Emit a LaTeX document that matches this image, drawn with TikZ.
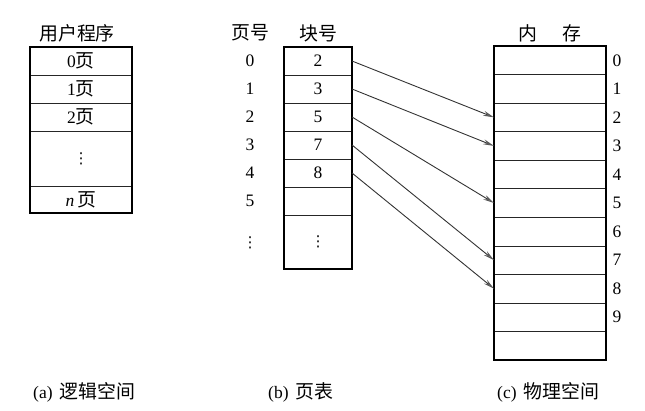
\documentclass[tikz,border=0pt]{standalone}
\usepackage{fontspec}
\setmainfont{Liberation Serif}
\newfontfamily\cjk[Scale=1.08]{Noto Sans CJK SC}
\newfontfamily\sym{DejaVu Sans}
\usetikzlibrary{arrows.meta}
\newcommand{\vd}{{\sym\fontsize{15}{18}\selectfont ⋮}}
\begin{document}
\begin{tikzpicture}[x=1pt,y=-1pt,
  every node/.style={font=\fontsize{17.5}{20}\selectfont},
  cell/.style={draw=black!85,line width=0.7pt,inner sep=0pt,outer sep=0pt},
  lcell/.style={cell,minimum width=102pt},
  bcell/.style={cell,minimum width=68pt},
  mcell/.style={cell,minimum width=112pt,minimum height=28.55pt},
  outer/.style={draw=black,line width=1.2pt},
  lab/.style={inner sep=0pt},
  arr/.style={draw=black!80,line width=0.9pt,-{Stealth[length=11pt,width=5pt,fill=black!45,color=black!65]}}
]
\useasboundingbox (0,0) rectangle (645,410);
% ---------- (a) logical space
\node[lab] (ta) at (77,33) {\cjk 用户程序};
\node[lcell,minimum height=28pt] (a0) at (81,61) {0{\cjk 页}};
\node[lcell,minimum height=28pt] (a1) at (81,89) {1{\cjk 页}};
\node[lcell,minimum height=28pt] (a2) at (81,117) {2{\cjk 页}};
\node[lcell,minimum height=55pt] (ad) at (81,158.5) {\vd};
\node[lcell,minimum height=27pt] (an) at (81,199.5) {\textit{n}\,{\cjk 页}};
\draw[outer] (a0.north west) rectangle (an.south east);
% ---------- (b) page table
\node[lab] (tp) at (250,33) {\cjk 页号};
\node[lab] (tb) at (318,33) {\cjk 块号};
\node[lab] (p0) at (250,61) {0};
\node[lab] (p1) at (250,89) {1};
\node[lab] (p2) at (250,117) {2};
\node[lab] (p3) at (250,145) {3};
\node[lab] (p4) at (250,173) {4};
\node[lab] (p5) at (250,201) {5};
\node[lab] (pd) at (250,243) {\vd};
\node[bcell,minimum height=28pt] (b0) at (318,61) {2};
\node[bcell,minimum height=28pt] (b1) at (318,89) {3};
\node[bcell,minimum height=28pt] (b2) at (318,117) {5};
\node[bcell,minimum height=28pt] (b3) at (318,145) {7};
\node[bcell,minimum height=28pt] (b4) at (318,173) {8};
\node[bcell,minimum height=28pt] (b5) at (318,201) {};
\node[bcell,minimum height=54pt] (bd) at (318,242) {\vd};
\draw[outer] (b0.north west) rectangle (bd.south east);
% ---------- (c) physical memory
\node[lab] (tm1) at (528,33) {\cjk 内};
\node[lab] (tm2) at (572,33) {\cjk 存};
\foreach \i in {0,...,10}{
  \node[mcell] (m\i) at (550,{46+28.55*(\i+0.5)}) {};
}
\foreach \i in {0,...,9}{
  \node[lab] (l\i) at (617,{46+28.55*(\i+0.5)}) {\i};
}
\draw[outer] (m0.north west) rectangle (m10.south east);
% ---------- arrows
\draw[arr] (b0.east) -- (m2.west);
\draw[arr] (b1.east) -- (m3.west);
\draw[arr] (b2.east) -- (m5.west);
\draw[arr] (b3.east) -- (m7.west);
\draw[arr] (b4.east) -- (m8.west);
% ---------- captions
\node[lab,anchor=west] (ca) at (33,392) {(a)\hspace{7pt}{\cjk 逻辑空间}};
\node[lab,anchor=west] (cb) at (268,392) {(b)\hspace{7pt}{\cjk 页表}};
\node[lab,anchor=west] (cc) at (497,392) {(c)\hspace{7pt}{\cjk 物理空间}};
\end{tikzpicture}
\end{document}
